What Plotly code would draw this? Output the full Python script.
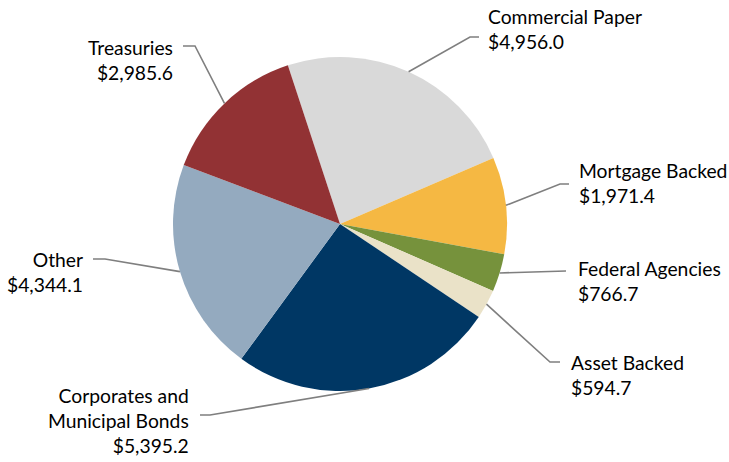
import math
import plotly.graph_objects as go

# Portfolio holdings by asset class ($ millions)
categories = [
    "Commercial Paper",
    "Mortgage Backed",
    "Federal Agencies",
    "Asset Backed",
    "Corporates and<br>Municipal Bonds",
    "Other",
    "Treasuries",
]
values = [4956.0, 1971.4, 766.7, 594.7, 5395.2, 4344.1, 2985.6]
colors = ["#D9D9D9", "#F5B843", "#76923C", "#EAE2C8", "#003764", "#94AABF", "#923234"]

W, H = 729, 462
CX, CY, R = 340, 224, 167          # pie centre and radius in pixels
ROTATION = -18.2                   # start angle of the first slice (clockwise from 12 o'clock)

# Leader-line bend/end points and label placement (pixels)
label_layout = [
    dict(bend=(470, 37), end=(479, 37), tx=486, ty=29.5, side="left"),
    dict(bend=(560, 184), end=(569, 184), tx=577, ty=182.5, side="left"),
    dict(bend=(566, 271), end=(566, 271), tx=576, ty=280.5, side="left"),
    dict(bend=(550, 362), end=(560, 362), tx=569, ty=374.5, side="left"),
    dict(bend=(210, 415), end=(200, 415), tx=191, ty=420.5, side="right"),
    dict(bend=(105, 259), end=(93, 259), tx=85, ty=271.5, side="right"),
    dict(bend=(195, 46), end=(183, 46), tx=175, ty=59.5, side="right"),
]

def px(x):
    return x / W

def py(y):
    return 1 - y / H

fig = go.Figure(
    go.Pie(
        labels=categories,
        values=values,
        sort=False,
        direction="clockwise",
        rotation=ROTATION,
        marker=dict(colors=colors, line=dict(width=0)),
        textinfo="none",
        hoverinfo="label+value",
        showlegend=False,
        domain=dict(x=[px(CX - R), px(CX + R)], y=[py(CY + R), py(CY - R)]),
    )
)

total = sum(values)
start = ROTATION
annotations = []
shapes = []
for cat, val, lay in zip(categories, values, label_layout):
    sweep = val / total * 360.0
    mid = math.radians(start + sweep / 2)
    start += sweep
    ex = CX + R * math.sin(mid)
    ey = CY - R * math.cos(mid)
    bx, by = lay["bend"]
    qx, qy = lay["end"]
    path = f"M {px(ex)},{py(ey)} L {px(bx)},{py(by)} L {px(qx)},{py(qy)}"
    shapes.append(dict(type="path", xref="paper", yref="paper", path=path,
                       line=dict(color="#7F7F7F", width=1.6)))
    annotations.append(dict(
        xref="paper", yref="paper",
        x=px(lay["tx"]), y=py(lay["ty"]),
        xanchor=lay["side"], yanchor="middle",
        align=lay["side"],
        text=f"{cat}<br>${val:,.1f}",
        showarrow=False,
        font=dict(family="Lato", size=19.3, color="#000000"),
    ))

fig.update_layout(
    width=W, height=H,
    margin=dict(l=0, r=0, t=0, b=0),
    paper_bgcolor="white",
    plot_bgcolor="white",
    shapes=shapes,
    annotations=annotations,
)

fig.write_html("out.html")
